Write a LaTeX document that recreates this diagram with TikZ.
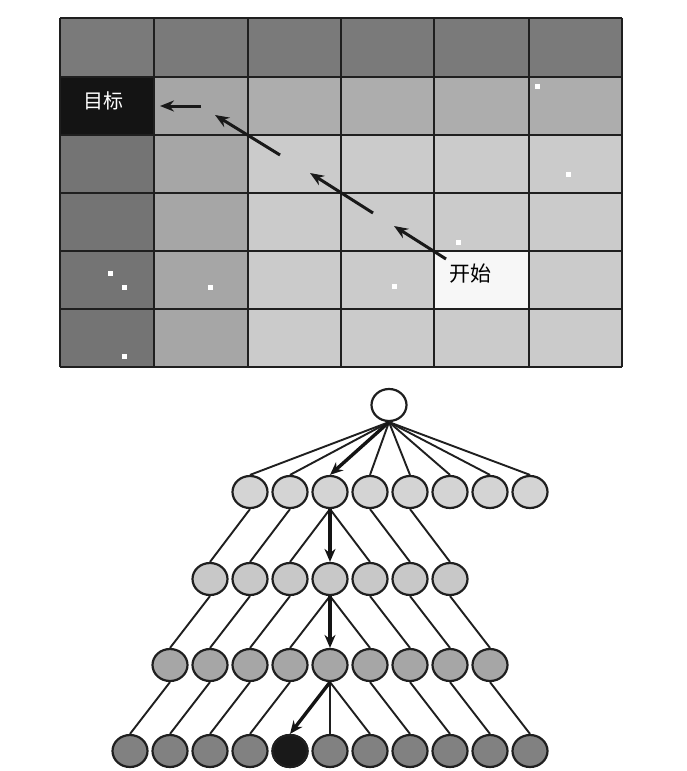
\documentclass[tikz,border=0pt]{standalone}
\usepackage{fontspec}
\newfontfamily\cjk{Noto Sans CJK SC}
\usetikzlibrary{shapes.geometric,arrows.meta}
\definecolor{celldark}{HTML}{7A7A7A}
\definecolor{cellmid}{HTML}{A6A6A6}
\definecolor{celllight}{HTML}{CBCBCB}
\definecolor{cellwhite}{HTML}{F7F7F7}
\definecolor{cellgoal}{HTML}{141414}
\definecolor{lvone}{HTML}{D4D4D4}
\definecolor{lvtwo}{HTML}{C8C8C8}
\definecolor{lvthree}{HTML}{A6A6A6}
\definecolor{lvfour}{HTML}{818181}
\begin{document}
\begin{tikzpicture}[x=1pt,y=-1pt,
  gridline/.style={draw=black!88,line width=2.4pt},
  patharrow/.style={draw=black!90,line width=3pt,-{Stealth[length=14pt,width=11pt]}},
  ball/.style={ellipse,draw=black!88,line width=2.2pt,minimum width=35pt,minimum height=32pt,inner sep=0pt},
  edge/.style={draw=black!88,line width=1.9pt},
  treearrow/.style={draw=black!92,line width=3.4pt,-{Stealth[length=13pt,width=11pt]}},
  speck/.style={fill=white},
  label/.style={inner sep=0pt,font=\cjk\fontsize{20}{22}\selectfont}]
\useasboundingbox (0,0) rectangle (686,771);
\fill[white] (0,0) rectangle (686,771);
% ---- grid cells ----
\fill[celllight] (248,135) rectangle (622,367);
\fill[cellmid] (154,77) rectangle (248,367);
\fill[cellmid!92!white] (248,77) rectangle (622,135);
\fill[celldark] (60,18) rectangle (622,77);
\fill[celldark!95!black] (60,77) rectangle (154,367);
\fill[cellgoal] (60,77) rectangle (154,135);
\fill[cellwhite] (434,251) rectangle (529,309);
% specks
\foreach \px/\py in {537/86,568/174,458/242,394/286,110/273,124/287,210/287,124/356}
  \fill[speck] (\px-2.5,\py-2.5) rectangle (\px+2.5,\py+2.5);
% grid lines
\foreach \gx in {60,154,248,341,434,529,622}
  \draw[gridline] (\gx,18) -- (\gx,367);
\foreach \gy in {18,77,135,193,251,309,367}
  \draw[gridline] (60,\gy) -- (622,\gy);
% labels
\node[label,text=white] (goal) at (103,101) {目标};
\node[label,font=\cjk\fontsize{21}{23}\selectfont] (start) at (470,274) {开始};
% path arrows
\coordinate (p0) at (446,259);
\coordinate (p1) at (394,226);
\coordinate (q0) at (373,213);
\coordinate (q1) at (310,173);
\coordinate (s0) at (280,155);
\coordinate (s1) at (215,115);
\coordinate (t0) at (201,106);
\coordinate (t1) at (160,106);
\draw[patharrow] (p0) -- (p1);
\draw[patharrow] (q0) -- (q1);
\draw[patharrow] (s0) -- (s1);
\draw[patharrow] (t0) -- (t1);
% ---- tree ----
\node[ball,fill=white] (r) at (389,405) {};
\foreach \i in {1,...,8}
  \node[ball,fill=lvone] (a\i) at ({250+40*(\i-1)},492) {};
\foreach \i in {1,...,7}
  \node[ball,fill=lvtwo] (b\i) at ({210+40*(\i-1)},579) {};
\foreach \i in {1,...,9}
  \node[ball,fill=lvthree] (c\i) at ({170+40*(\i-1)},665) {};
\foreach \i in {1,...,11}
  \node[ball,fill=lvfour] (d\i) at ({130+40*(\i-1)},751) {};
\node[ball,fill=black!90] at (d5) {};
% root edges
\foreach \i in {1,2,4,5,6,7,8}
  \draw[edge] (r.south) -- (a\i.north);
\draw[treearrow] (r.south) -- (a3.north);
% level 1 -> 2
\draw[edge] (a1.south) -- (b1.north);
\draw[edge] (a2.south) -- (b2.north);
\draw[edge] (a3.south) -- (b3.north);
\draw[edge] (a3.south) -- (b5.north);
\draw[edge] (a4.south) -- (b6.north);
\draw[edge] (a5.south) -- (b7.north);
\draw[treearrow] (a3.south) -- (b4.north);
% level 2 -> 3
\draw[edge] (b1.south) -- (c1.north);
\draw[edge] (b2.south) -- (c2.north);
\draw[edge] (b3.south) -- (c3.north);
\draw[edge] (b4.south) -- (c4.north);
\draw[edge] (b4.south) -- (c6.north);
\draw[edge] (b5.south) -- (c7.north);
\draw[edge] (b6.south) -- (c8.north);
\draw[edge] (b7.south) -- (c9.north);
\draw[treearrow] (b4.south) -- (c5.north);
% level 3 -> 4
\draw[edge] (c1.south) -- (d1.north);
\draw[edge] (c2.south) -- (d2.north);
\draw[edge] (c3.south) -- (d3.north);
\draw[edge] (c4.south) -- (d4.north);
\draw[edge] (c5.south) -- (d6.north);
\draw[edge] (c5.south) -- (d7.north);
\draw[edge] (c6.south) -- (d8.north);
\draw[edge] (c7.south) -- (d9.north);
\draw[edge] (c8.south) -- (d10.north);
\draw[edge] (c9.south) -- (d11.north);
\draw[treearrow] (c5.south) -- (d5.north);
\end{tikzpicture}
\end{document}
